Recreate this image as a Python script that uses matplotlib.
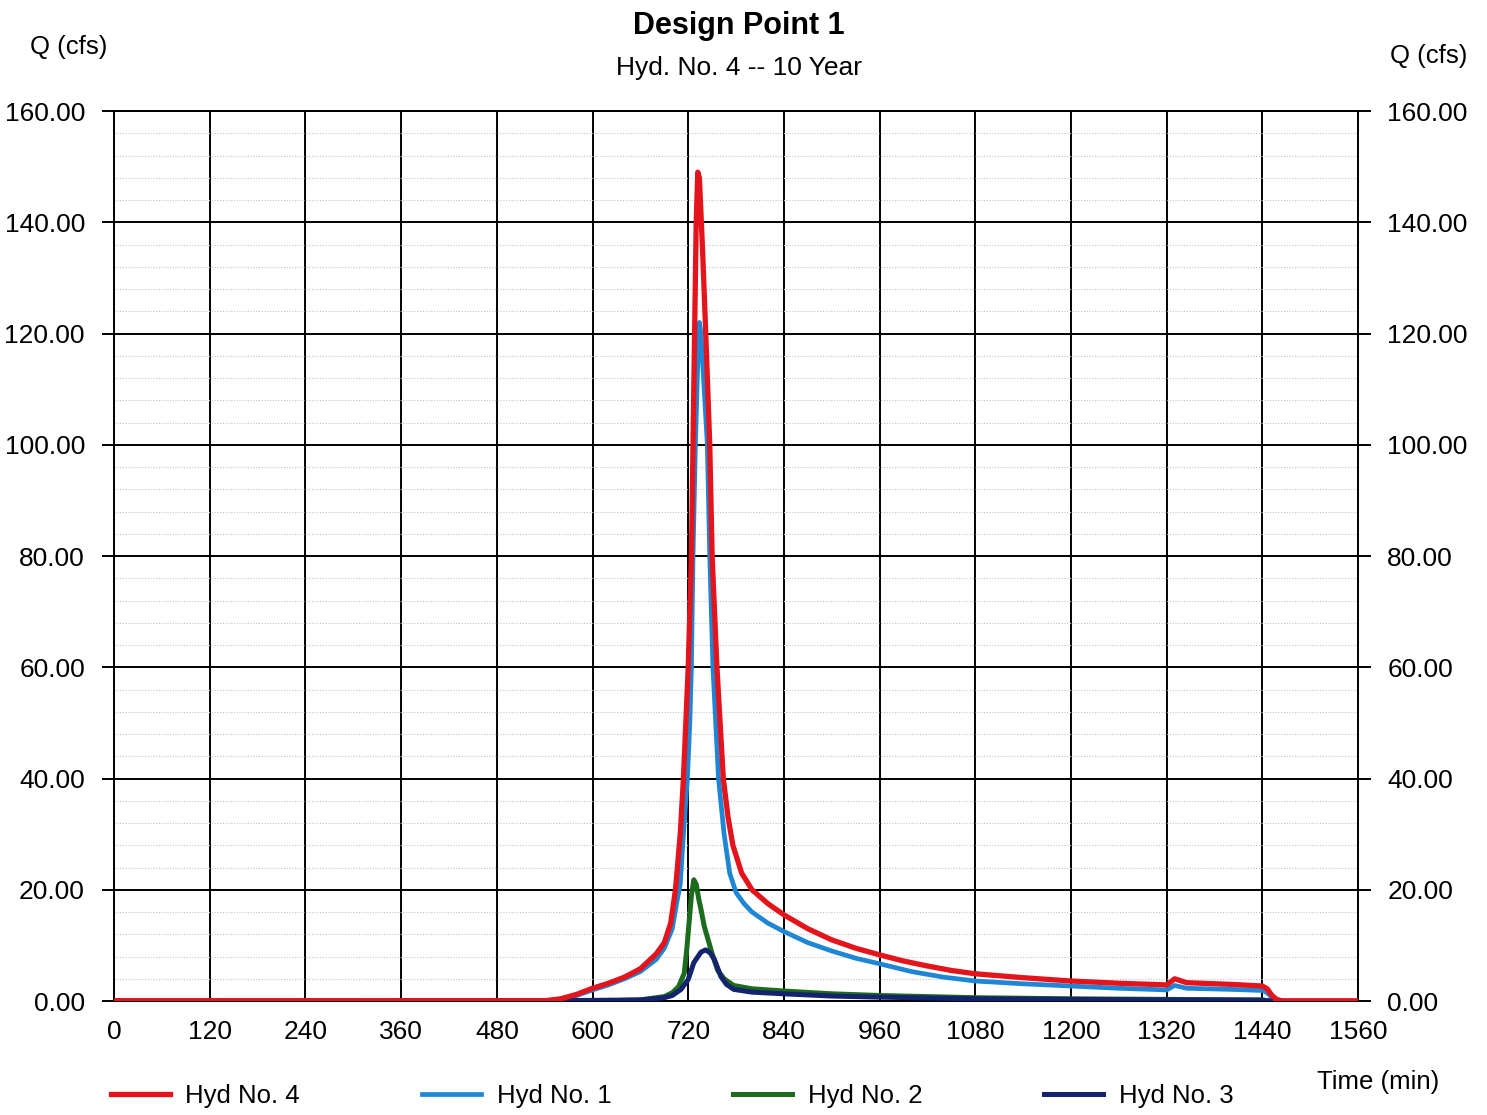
import matplotlib
matplotlib.use("Agg")
import matplotlib.pyplot as plt
from matplotlib.ticker import MultipleLocator

plt.rcParams["font.family"] = ["Liberation Sans", "DejaVu Sans"]

# --------------------
# Hydrograph data (time in min, Q in cfs)
# --------------------
t_hyd4 = [0, 540, 560, 580, 600, 620, 640, 660, 680, 690, 698, 704, 710, 714,
          717, 720, 724, 726, 728, 730, 732, 734, 738, 742, 747, 750, 756, 764,
          770, 776, 787, 800, 820, 840, 870, 900, 930, 960, 990, 1020, 1050,
          1080, 1140, 1200, 1260, 1320, 1330, 1345, 1400, 1440, 1446, 1452,
          1458, 1464, 1560]
q_hyd4 = [0.05, 0.05, 0.4, 1.2, 2.3, 3.2, 4.3, 5.8, 8.5, 10.5, 14, 20, 30, 40,
          50, 60, 80, 100, 120, 140, 149, 148, 135, 120, 100, 80, 60, 40,
          33, 28, 23, 20, 17.5, 15.5, 13, 11, 9.5, 8.3, 7.2, 6.3, 5.5,
          4.9, 4.2, 3.6, 3.2, 2.9, 4.0, 3.3, 3.0, 2.7, 2.2, 1.0,
          0.3, 0.05, 0.05]

t_hyd1 = [0, 540, 560, 580, 600, 620, 640, 660, 680, 690, 700, 706, 710, 714,
          719, 722, 724, 726, 729, 732, 734, 736, 740, 744, 747, 751, 758, 765,
          772, 780, 790, 800, 820, 840, 870, 900, 930, 960, 1000, 1040, 1080,
          1140, 1200, 1260, 1320, 1330, 1345, 1400, 1440, 1446, 1452, 1460, 1466]
q_hyd1 = [0, 0, 0.3, 1.0, 2.0, 2.9, 4.0, 5.3, 7.5, 9.5, 13, 18, 21, 30,
          40, 50, 60, 80, 100, 115, 122, 120, 110, 100, 80, 60, 40, 30,
          23, 19.5, 17.5, 16, 14, 12.5, 10.5, 9, 7.7, 6.7, 5.3, 4.3, 3.6,
          3.1, 2.7, 2.3, 2.0, 2.8, 2.3, 2.1, 1.9, 1.5, 0.6, 0.1, 0]

t_hyd2 = [0, 600, 660, 690, 700, 708, 715, 718, 721, 724, 727, 730, 733, 736,
          740, 745, 750, 757, 765, 777, 800, 840, 900, 960, 1080, 1200, 1320,
          1440, 1450]
q_hyd2 = [0, 0, 0.2, 0.8, 1.5, 2.6, 5, 9, 14, 19, 21.8, 21, 18.5, 16.5,
          13.5, 11, 8.5, 5.5, 4, 2.8, 2.2, 1.8, 1.3, 1.0, 0.6, 0.4, 0.3,
          0.2, 0]

t_hyd3 = [0, 540, 660, 690, 700, 711, 720, 727, 736, 742, 748, 753, 761, 768,
          777, 800, 840, 900, 960, 1080, 1200, 1320, 1440, 1450]
q_hyd3 = [0, 0.05, 0.2, 0.6, 1.0, 2.1, 3.9, 6.9, 8.8, 9.2, 8.6, 7.4, 4.4, 3.0,
          2.1, 1.6, 1.3, 0.9, 0.7, 0.4, 0.3, 0.2, 0.15, 0]

x_ticks = list(range(0, 1561, 120))
y_ticks = [0, 20, 40, 60, 80, 100, 120, 140, 160]

fig = plt.figure(figsize=(14.87, 11.15), dpi=100)
ax = fig.add_axes([0.0767, 0.1022, 0.8366, 0.7982])

# --------------------
# Curves
# --------------------
l1, = ax.plot(t_hyd1, q_hyd1, color="#1f86d6", lw=3.4, zorder=3, label="Hyd No. 1")
l2, = ax.plot(t_hyd2, q_hyd2, color="#1d6b1d", lw=3.6, zorder=4, label="Hyd No. 2")
l3, = ax.plot(t_hyd3, q_hyd3, color="#14236e", lw=3.6, zorder=5, label="Hyd No. 3")
l4, = ax.plot(t_hyd4, q_hyd4, color="#e3141b", lw=3.8, zorder=6, label="Hyd No. 4")

# --------------------
# Axes, grid
# --------------------
ax.set_xlim(0, 1560)
ax.set_ylim(0, 160)
ax.set_xticks(x_ticks)
ax.set_yticks(y_ticks)
ax.set_yticklabels([f"{v:.2f}" for v in y_ticks])
ax.yaxis.set_minor_locator(MultipleLocator(4))

ax.grid(which="major", color="black", lw=1.4)
ax.grid(which="minor", axis="y", color="#c4c4cc", lw=0.8, ls=(0, (1, 1.5)))
ax.set_axisbelow(True)
for sp in ax.spines.values():
    sp.set_linewidth(1.4)

ax.tick_params(axis="y", which="major", left=True, right=True,
               labelleft=True, labelright=True, length=9, width=1.4,
               labelsize=19, pad=12)
ax.tick_params(axis="x", which="major", length=0, labelsize=19, pad=14)
ax.tick_params(which="minor", length=0)

# --------------------
# Text
# --------------------
fig.text(0.497, 0.977, "Design Point 1", ha="center", va="center",
         fontsize=22, fontweight="bold")
fig.text(0.497, 0.939, "Hyd. No. 4 -- 10 Year", ha="center", va="center",
         fontsize=19)
fig.text(0.046, 0.958, "Q (cfs)", ha="center", va="center", fontsize=18.5)
fig.text(0.961, 0.950, "Q (cfs)", ha="center", va="center", fontsize=18.5)
fig.text(0.927, 0.030, "Time (min)", ha="center", va="center", fontsize=18.5)

fig.legend(handles=[l4, l1, l2, l3], loc="center left",
           bbox_to_anchor=(0.059, 0.017), ncol=4, frameon=False,
           fontsize=18.5, handlelength=2.3, handletextpad=0.6,
           columnspacing=4.75)

fig.savefig("out.png", dpi=100)
